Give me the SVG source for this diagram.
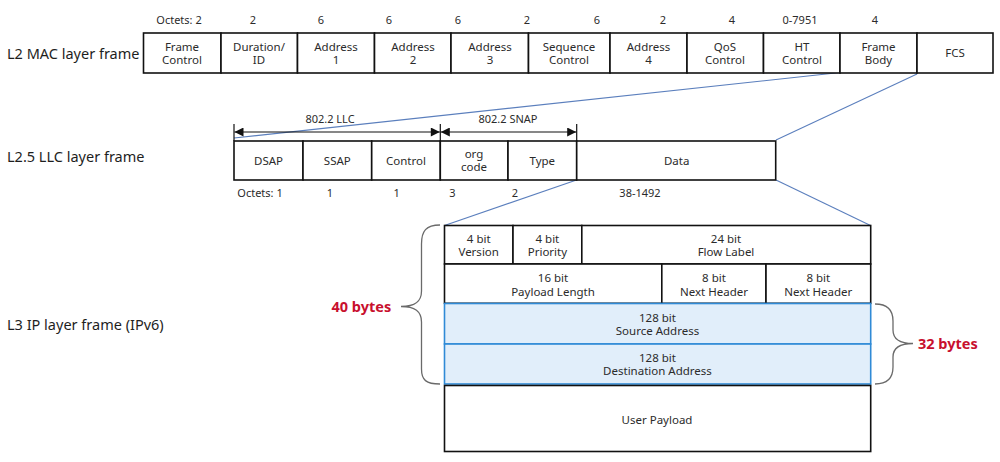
<svg xmlns="http://www.w3.org/2000/svg" width="1000" height="462" viewBox="0 0 1000 462">
<defs>
<style>
text{font-family:"Noto Sans","Liberation Sans",sans-serif;fill:#2b2b2b;}
.t{font-size:11.5px;text-anchor:middle;}
.o{font-size:11px;text-anchor:middle;}
.lbl{font-size:14.5px;fill:#1e1e1e;}
.big{font-size:14.5px;font-weight:bold;fill:#c8102e;}
.cell{fill:#fff;stroke:#111;stroke-width:1.6;}
.blue{fill:#e1eefa;stroke:#2f8ad6;stroke-width:1.6;}
.conn{stroke:#5b7fbd;stroke-width:1.1;fill:none;}
.brace{stroke:#6a6a6a;stroke-width:1.3;fill:none;}
.dim{stroke:#111;stroke-width:1.2;fill:none;}
</style>
<marker id="ah" viewBox="0 0 10 10" refX="10" refY="5" markerWidth="10" markerHeight="9" markerUnits="userSpaceOnUse" orient="auto-start-reverse">
<path d="M0,0 L10,5 L0,10 Z" fill="#111"/>
</marker>
</defs>
<rect width="1000" height="462" fill="#fff"/>

<g id="layer-labels">
<text class="lbl" x="7" y="58.5">L2 MAC layer frame</text>
<text class="lbl" x="7" y="162">L2.5 LLC layer frame</text>
<text class="lbl" x="7" y="330">L3 IP layer frame (IPv6)</text>
</g>

<g id="connectors">
<line class="conn" x1="840" y1="72.5" x2="234" y2="138"/>
<line class="conn" x1="917" y1="74" x2="776" y2="140"/>
<line class="conn" x1="576.5" y1="180" x2="444.5" y2="225.5"/>
<line class="conn" x1="776" y1="180" x2="870.5" y2="225.5"/>
</g>

<g id="mac-frame">
<g id="mac-octets">
<text class="o" x="179" y="24">Octets: 2</text>
<text class="o" x="253" y="24">2</text>
<text class="o" x="321" y="24">6</text>
<text class="o" x="389" y="24">6</text>
<text class="o" x="458" y="24">6</text>
<text class="o" x="527" y="24">2</text>
<text class="o" x="597" y="24">6</text>
<text class="o" x="663" y="24">2</text>
<text class="o" x="732" y="24">4</text>
<text class="o" x="800" y="24">0-7951</text>
<text class="o" x="875" y="24">4</text>
</g>
<g id="mac-frame-control"><rect class="cell" x="143.5" y="33" width="77.5" height="40"/><text class="t" x="182" y="50.5">Frame</text><text class="t" x="182" y="64">Control</text></g>
<g id="mac-duration"><rect class="cell" x="221" y="33" width="76.5" height="40"/><text class="t" x="259" y="50.5">Duration/</text><text class="t" x="259" y="64">ID</text></g>
<g id="mac-address1"><rect class="cell" x="297.5" y="33" width="77" height="40"/><text class="t" x="336" y="50.5">Address</text><text class="t" x="336" y="64">1</text></g>
<g id="mac-address2"><rect class="cell" x="374.5" y="33" width="76.5" height="40"/><text class="t" x="413" y="50.5">Address</text><text class="t" x="413" y="64">2</text></g>
<g id="mac-address3"><rect class="cell" x="451" y="33" width="77.5" height="40"/><text class="t" x="490" y="50.5">Address</text><text class="t" x="490" y="64">3</text></g>
<g id="mac-sequence"><rect class="cell" x="528.5" y="33" width="81.5" height="40"/><text class="t" x="569" y="50.5">Sequence</text><text class="t" x="569" y="64">Control</text></g>
<g id="mac-address4"><rect class="cell" x="610" y="33" width="77" height="40"/><text class="t" x="648.5" y="50.5">Address</text><text class="t" x="648.5" y="64">4</text></g>
<g id="mac-qos"><rect class="cell" x="687" y="33" width="76.5" height="40"/><text class="t" x="725" y="50.5">QoS</text><text class="t" x="725" y="64">Control</text></g>
<g id="mac-ht"><rect class="cell" x="763.5" y="33" width="76.5" height="40"/><text class="t" x="802" y="50.5">HT</text><text class="t" x="802" y="64">Control</text></g>
<g id="mac-body"><rect class="cell" x="840" y="33" width="77" height="40"/><text class="t" x="878.5" y="50.5">Frame</text><text class="t" x="878.5" y="64">Body</text></g>
<g id="mac-fcs"><rect class="cell" x="917" y="33" width="76" height="40"/><text class="t" x="955" y="57">FCS</text></g>
</g>

<g id="llc-frame">
<g id="llc-dimensions">
<line class="dim" x1="234" y1="124" x2="234" y2="141"/>
<line class="dim" x1="440.3" y1="124" x2="440.3" y2="141"/>
<line class="dim" x1="576.7" y1="124" x2="576.7" y2="141"/>
<line class="dim" x1="234.5" y1="132" x2="439.8" y2="132" marker-start="url(#ah)" marker-end="url(#ah)"/>
<line class="dim" x1="440.8" y1="132" x2="576.2" y2="132" marker-start="url(#ah)" marker-end="url(#ah)" stroke="#444"/>
<text class="o" x="330" y="123">802.2 LLC</text>
<text class="o" x="508" y="123">802.2 SNAP</text>
</g>
<g id="llc-dsap"><rect class="cell" x="234" y="141" width="69" height="39"/><text class="t" x="268.5" y="164.5">DSAP</text></g>
<g id="llc-ssap"><rect class="cell" x="303" y="141" width="68.7" height="39"/><text class="t" x="337.3" y="164.5">SSAP</text></g>
<g id="llc-control"><rect class="cell" x="371.7" y="141" width="68.6" height="39"/><text class="t" x="406" y="164.5">Control</text></g>
<g id="llc-org"><rect class="cell" x="440.3" y="141" width="67.7" height="39"/><text class="t" x="474" y="158">org</text><text class="t" x="474" y="171">code</text></g>
<g id="llc-type"><rect class="cell" x="508" y="141" width="68.7" height="39"/><text class="t" x="542.3" y="164.5">Type</text></g>
<g id="llc-data"><rect class="cell" x="576.7" y="141" width="199" height="39"/><text class="t" x="676.7" y="164.5">Data</text></g>
<g id="llc-octets">
<text class="o" x="260" y="197">Octets: 1</text>
<text class="o" x="330" y="197">1</text>
<text class="o" x="396.7" y="197">1</text>
<text class="o" x="452.3" y="197">3</text>
<text class="o" x="515" y="197">2</text>
<text class="o" x="640" y="197">38-1492</text>
</g>
</g>

<g id="ipv6-frame">
<g id="ip-version"><rect class="cell" x="444.5" y="225.5" width="68.5" height="38.5"/><text class="t" x="478.7" y="243">4 bit</text><text class="t" x="478.7" y="256">Version</text></g>
<g id="ip-priority"><rect class="cell" x="513" y="225.5" width="68.8" height="38.5"/><text class="t" x="547.4" y="243">4 bit</text><text class="t" x="547.4" y="256">Priority</text></g>
<g id="ip-flow"><rect class="cell" x="581.8" y="225.5" width="288.9" height="38.5"/><text class="t" x="726" y="243">24 bit</text><text class="t" x="726" y="256">Flow Label</text></g>
<g id="ip-payload-length"><rect class="cell" x="444.5" y="264" width="217.3" height="39.3"/><text class="t" x="553" y="282">16 bit</text><text class="t" x="553" y="295.5">Payload Length</text></g>
<g id="ip-next-header-1"><rect class="cell" x="661.8" y="264" width="104.2" height="39.3"/><text class="t" x="714" y="282">8 bit</text><text class="t" x="714" y="295.5">Next Header</text></g>
<g id="ip-next-header-2"><rect class="cell" x="766" y="264" width="104.7" height="39.3"/><text class="t" x="818.3" y="282">8 bit</text><text class="t" x="818.3" y="295.5">Next Header</text></g>
<g id="ip-source"><rect class="blue" x="444.5" y="303.5" width="426.2" height="40.5"/><text class="t" x="657.5" y="321.5">128 bit</text><text class="t" x="657.5" y="335">Source Address</text></g>
<g id="ip-destination"><rect class="blue" x="444.5" y="344" width="426.2" height="40"/><text class="t" x="657.5" y="361.5">128 bit</text><text class="t" x="657.5" y="375">Destination Address</text></g>
<g id="ip-user-payload"><rect class="cell" x="444.5" y="385.5" width="426.2" height="66"/><text class="t" x="657" y="423.5">User Payload</text></g>
</g>

<g id="brace-40">
<path class="brace" d="M440,225 C426,225 421.5,231 421.5,244 L421.5,291 C421.5,302 415,306.5 401,306.5 C415,306.5 421.5,311 421.5,322 L421.5,369 C421.5,380 426,384 440,384"/>
<text class="big" x="331.5" y="311.5">40 bytes</text>
</g>
<g id="brace-32">
<path class="brace" d="M875,304 C888,304 893,310 893,321 L893,330 C893,339 900,343.5 913,343.5 C900,343.5 893,348 893,357 L893,367 C893,378 888,384 875,384"/>
<text class="big" x="918" y="348.5">32 bytes</text>
</g>
</svg>
